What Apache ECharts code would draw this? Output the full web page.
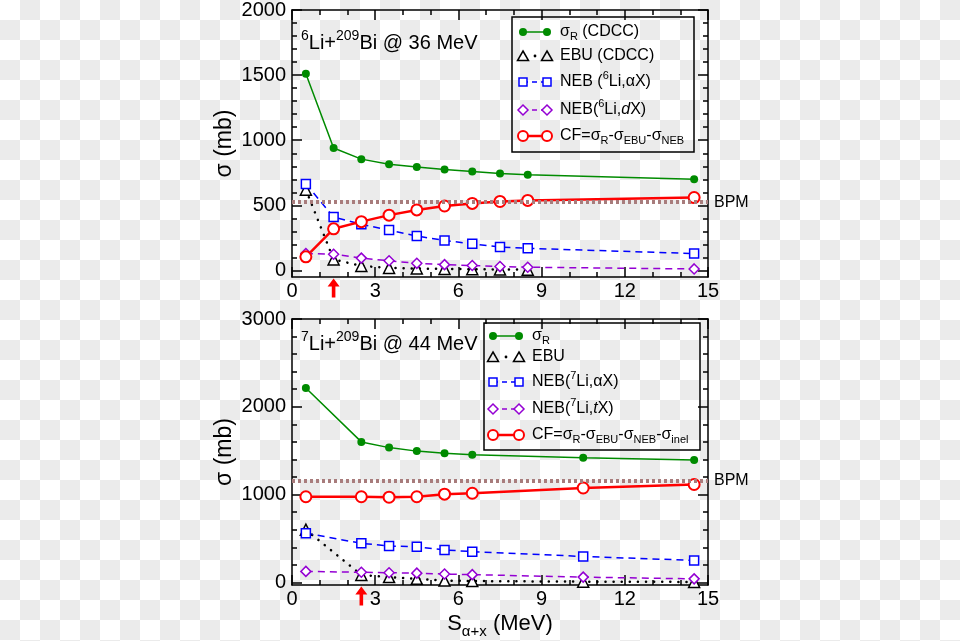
<!DOCTYPE html>
<html><head><meta charset="utf-8">
<script src="https://cdn.jsdelivr.net/npm/echarts@6/dist/echarts.min.js"></script>
<style>
html,body{margin:0;padding:0;width:960px;height:641px;overflow:hidden;
background:#fff repeating-conic-gradient(#ebebeb 0 25%, #fff 0 50%) 0 0/40px 40px;}
#c{width:960px;height:641px;}
</style></head><body><div id="c"></div>
<script>
const FONT = '"Liberation Sans", Arial, Helvetica, sans-serif';

// ---- top panel: 6Li + 209Bi @ 36 MeV ----
const x6 = [0.5, 1.5, 2.5, 3.5, 4.5, 5.5, 6.5, 7.5, 8.5, 14.5];
const x6ebu = [0.5, 1.5, 2.5, 3.5, 4.5, 5.5, 6.5, 7.5, 8.5];
const sigmaR6 = [1510, 940, 855, 815, 795, 775, 760, 745, 735, 700];
const ebu6 = [620, 85, 35, 20, 15, 12, 10, 8, 6];
const nebA6 = [665, 410, 355, 310, 265, 230, 205, 180, 170, 130];
const nebD6 = [130, 125, 95, 75, 55, 45, 38, 30, 25, 12];
const cf6 = [105, 320, 375, 425, 465, 495, 515, 530, 538, 560];
const bpm6 = 525;
const arrow6 = 1.5;
const yMajor6 = [0, 500, 1000, 1500, 2000];
const yMinor6 = [100, 200, 300, 400, 600, 700, 800, 900, 1100, 1200, 1300, 1400, 1600, 1700, 1800, 1900];

// ---- bottom panel: 7Li + 209Bi @ 44 MeV ----
const x7 = [0.5, 2.5, 3.5, 4.5, 5.5, 6.5, 10.5, 14.5];
const sigmaR7 = [2215, 1600, 1535, 1495, 1470, 1455, 1420, 1395];
const ebu7 = [600, 85, 60, 40, 20, 15, 8, 5];
const nebA7 = [560, 445, 415, 405, 370, 350, 295, 250];
const nebT7 = [125, 115, 110, 105, 95, 88, 60, 40];
const cf7 = [975, 975, 970, 975, 1005, 1015, 1075, 1115];
const bpm7 = 1160;
const arrow7 = 2.5;
const yMajor7 = [0, 1000, 2000, 3000];
const yMinor7 = [200, 400, 600, 800, 1200, 1400, 1600, 1800, 2200, 2400, 2600, 2800];

const GREEN = '#008b00', BLUE = '#0000ff', PURPLE = '#9400d3', RED = '#ff0000';

function pairs(xs, ys) { return xs.map((x, i) => [x, ys[i]]); }

function makeAxes(gi, yMin, yMax, yMajor, yMinor, withXName) {
  const line = { show: true, onZero: false, lineStyle: { color: '#000', width: 1.5 } };
  const noLine = { show: false, onZero: false };
  const tMaj = { show: true, inside: true, length: 10, lineStyle: { color: '#000', width: 1.5 } };
  const tMin = { show: true, inside: true, length: 5, lineStyle: { color: '#000', width: 1.5 } };
  const lab = { show: true, color: '#000', fontSize: 20, fontFamily: FONT, formatter: v => String(v) };
  const noLab = { show: false };
  const xs = [
    { position: 'bottom', interval: 3, axisLine: line, axisTick: tMaj, axisLabel: Object.assign({}, lab, { margin: 4 }) },
    { position: 'bottom', interval: 1, axisLine: noLine, axisTick: tMin, axisLabel: noLab },
    { position: 'top', interval: 3, axisLine: line, axisTick: tMaj, axisLabel: noLab },
    { position: 'top', interval: 1, axisLine: noLine, axisTick: tMin, axisLabel: noLab }
  ].map(a => Object.assign({ type: 'value', gridIndex: gi, min: 0, max: 15, splitLine: { show: false } }, a));
  if (withXName) {
    Object.assign(xs[0], {
      name: '{m|S}{s|α+x}{m| (MeV)}', nameLocation: 'middle', nameGap: 24,
      nameTextStyle: {
        color: '#000', fontFamily: FONT,
        rich: {
          m: { fontSize: 22, fontFamily: FONT, color: '#000', lineHeight: 26 },
          s: { fontSize: 15, fontFamily: FONT, color: '#000', lineHeight: 26, padding: [14, 0, 0, 0] }
        }
      }
    });
  }
  const ys = [
    { position: 'left', axisLine: line, axisTick: Object.assign({}, tMaj, { customValues: yMajor }),
      axisLabel: Object.assign({}, lab, { customValues: yMajor, margin: 6 }),
      name: 'σ (mb)', nameLocation: 'middle', nameGap: 56, nameRotate: 90,
      nameTextStyle: { color: '#000', fontSize: 23, fontFamily: FONT } },
    { position: 'left', axisLine: noLine, axisTick: Object.assign({}, tMin, { customValues: yMinor }), axisLabel: noLab },
    { position: 'right', axisLine: line, axisTick: Object.assign({}, tMaj, { customValues: yMajor }), axisLabel: noLab },
    { position: 'right', axisLine: noLine, axisTick: Object.assign({}, tMin, { customValues: yMinor }), axisLabel: noLab }
  ].map(a => Object.assign({ type: 'value', gridIndex: gi, min: yMin, max: yMax, splitLine: { show: false } }, a));
  return { xs, ys };
}

const A0 = makeAxes(0, -50, 2000, yMajor6, yMinor6, false);
const A1 = makeAxes(1, -30, 3000, yMajor7, yMinor7, true);

function panelSeries(ai, d) {
  const base = { type: 'line', xAxisIndex: ai, yAxisIndex: ai, animation: false, silent: true };
  return [
    Object.assign({}, base, {
      name: 'sigmaR', data: pairs(d.x, d.sigR), symbol: 'circle', symbolSize: 8,
      itemStyle: { color: GREEN }, lineStyle: { color: GREEN, width: 1.5 },
      markLine: {
        silent: true, animation: false, symbol: ['none', 'none'],
        lineStyle: { color: '#a87c7c', width: 4, type: [3, 3] },
        label: { show: true, position: 'end', formatter: 'BPM', color: '#000', fontSize: 16, fontFamily: FONT, distance: 6 },
        data: [[{ coord: [0, d.bpm] }, { coord: [15, d.bpm] }]]
      }
    }),
    Object.assign({}, base, {
      name: 'EBU', data: pairs(d.xe, d.ebu), symbol: 'triangle', symbolSize: 11,
      itemStyle: { color: '#fff', borderColor: '#000', borderWidth: 1.5 },
      lineStyle: { color: '#000', width: 2.5, type: [0.1, 8], cap: 'round' }
    }),
    Object.assign({}, base, {
      name: 'NEBa', data: pairs(d.x, d.nebA), symbol: 'rect', symbolSize: 9,
      itemStyle: { color: '#fff', borderColor: BLUE, borderWidth: 1.5 },
      lineStyle: { color: BLUE, width: 1.5, type: [7, 5] }
    }),
    Object.assign({}, base, {
      name: 'NEBb', data: pairs(d.x, d.nebB), symbol: 'diamond', symbolSize: 10,
      itemStyle: { color: '#fff', borderColor: PURPLE, borderWidth: 1.5 },
      lineStyle: { color: PURPLE, width: 1.5, type: [7, 5] }
    }),
    Object.assign({}, base, {
      name: 'CF', data: pairs(d.x, d.cf), symbol: 'circle', symbolSize: 11,
      itemStyle: { color: '#fff', borderColor: RED, borderWidth: 2 },
      lineStyle: { color: RED, width: 2.5 },
      markPoint: {
        silent: true, animation: false,
        symbol: 'path://M6,0L12,8L7.8,8L7.8,19L4.2,19L4.2,8L0,8Z',
        symbolSize: [12, 19], symbolOffset: [0, 11],
        itemStyle: { color: RED, borderWidth: 0 }, label: { show: false },
        data: [{ coord: [d.arrow, d.yMin] }]
      }
    })
  ];
}

const series = [].concat(
  panelSeries(0, { x: x6, xe: x6ebu, sigR: sigmaR6, ebu: ebu6, nebA: nebA6, nebB: nebD6, cf: cf6, bpm: bpm6, arrow: arrow6, yMin: -50 }),
  panelSeries(4, { x: x7, xe: x7, sigR: sigmaR7, ebu: ebu7, nebA: nebA7, nebB: nebT7, cf: cf7, bpm: bpm7, arrow: arrow7, yMin: -30 })
);

// ---- legends & annotations (graphic) ----
const RICH = {
  n: { fontSize: 16, fontFamily: FONT, color: '#000', lineHeight: 22 },
  i: { fontSize: 16, fontFamily: FONT, color: '#000', lineHeight: 22, fontStyle: 'italic' },
  sub: { fontSize: 11, fontFamily: FONT, color: '#000', lineHeight: 22, padding: [10, 0, 0, 0] },
  sup: { fontSize: 11, fontFamily: FONT, color: '#000', lineHeight: 22, padding: [0, 0, 12, 0] }
};
const legendTop = ['{n|σ}{sub|R}{n| (CDCC)}', '{n|EBU (CDCC)}', '{n|NEB (}{sup|6}{n|Li,αX)}', '{n|NEB(}{sup|6}{n|Li,}{i|d}{n|X)}', '{n|CF=σ}{sub|R}{n|-σ}{sub|EBU}{n|-σ}{sub|NEB}'];
const legendBot = ['{n|σ}{sub|R}', '{n|EBU}', '{n|NEB(}{sup|7}{n|Li,αX)}', '{n|NEB(}{sup|7}{n|Li,}{i|t}{n|X)}', '{n|CF=σ}{sub|R}{n|-σ}{sub|EBU}{n|-σ}{sub|NEB}{n|-σ}{sub|inel}'];

function marker(kind, cx, cy) {
  switch (kind) {
    case 0: return { type: 'circle', shape: { cx, cy, r: 4 }, style: { fill: GREEN } };
    case 1: return { type: 'polygon', shape: { points: [[cx, cy - 5], [cx + 5.5, cy + 4.5], [cx - 5.5, cy + 4.5]] }, style: { fill: 'none', stroke: '#000', lineWidth: 1.5 } };
    case 2: return { type: 'rect', shape: { x: cx - 4, y: cy - 4, width: 8, height: 8 }, style: { fill: '#fff', stroke: BLUE, lineWidth: 1.5 } };
    case 3: return { type: 'polygon', shape: { points: [[cx, cy - 5], [cx + 5, cy], [cx, cy + 5], [cx - 5, cy]] }, style: { fill: '#fff', stroke: PURPLE, lineWidth: 1.5 } };
    default: return { type: 'circle', shape: { cx, cy, r: 5 }, style: { fill: '#fff', stroke: RED, lineWidth: 2 } };
  }
}
function legendLine(kind, x1, x2, y) {
  if (kind === 1) return { type: 'circle', shape: { cx: (x1 + x2) / 2, cy: y, r: 1.4 }, style: { fill: '#000' } };
  const st = [
    { stroke: GREEN, lineWidth: 1.5 }, null,
    { stroke: BLUE, lineWidth: 1.5, lineDash: [5, 4] },
    { stroke: PURPLE, lineWidth: 1.5, lineDash: [5, 4] },
    { stroke: RED, lineWidth: 2.5 }
  ][kind];
  return { type: 'line', shape: { x1, y1: y, x2, y2: y }, style: st };
}
function legendGraphic(box, rowsY, mx1, mx2, tx, texts) {
  const els = [{ type: 'rect', shape: box, style: { fill: 'none', stroke: '#000', lineWidth: 1.5 } }];
  rowsY.forEach((y, k) => {
    els.push(legendLine(k, mx1, mx2, y));
    els.push(marker(k, mx1, y));
    els.push(marker(k, mx2, y));
    els.push({ type: 'text', x: tx, y: y, style: { text: texts[k], rich: RICH, verticalAlign: 'middle', align: 'left' } });
  });
  return els;
}

const ANN = {
  a: { fontSize: 20, fontFamily: FONT, color: '#000', lineHeight: 26 },
  s: { fontSize: 14, fontFamily: FONT, color: '#000', lineHeight: 26, padding: [0, 0, 14, 0] }
};

const graphic = [].concat(
  legendGraphic({ x: 512, y: 17, width: 182, height: 135 }, [32, 56, 82, 110, 136], 523, 547, 560, legendTop),
  legendGraphic({ x: 484, y: 323, width: 216, height: 127 }, [336, 357, 382, 409, 435], 493, 519, 532, legendBot),
  [
    { type: 'text', x: 301, y: 43, style: { text: '{s|6}{a|Li+}{s|209}{a|Bi @ 36 MeV}', rich: ANN, verticalAlign: 'middle' } },
    { type: 'text', x: 301, y: 344, style: { text: '{s|7}{a|Li+}{s|209}{a|Bi @ 44 MeV}', rich: ANN, verticalAlign: 'middle' } }
  ]
);

const chart = echarts.init(document.getElementById('c'), null, { renderer: 'canvas' });
chart.setOption({
  animation: false,
  backgroundColor: 'transparent',
  grid: [
    { left: 292, top: 7, width: 416, height: 270 },
    { left: 292, top: 319, width: 416, height: 266 }
  ],
  xAxis: A0.xs.concat(A1.xs),
  yAxis: A0.ys.concat(A1.ys),
  series: series,
  graphic: graphic
});
</script></body></html>
